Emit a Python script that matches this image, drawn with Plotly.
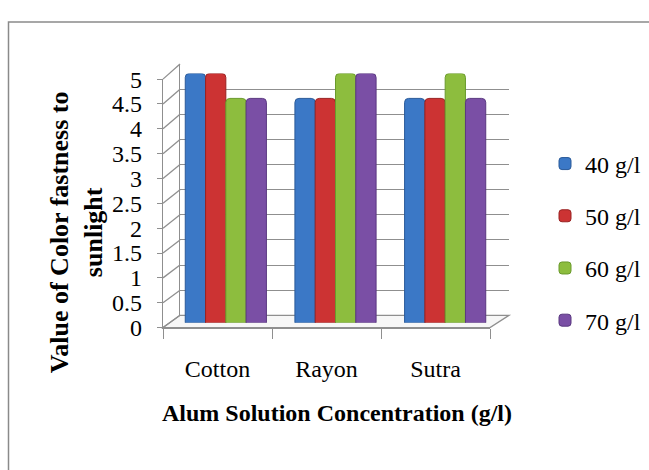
import plotly.graph_objects as go

# ---- data ----
categories = ["Cotton", "Rayon", "Sutra"]
series_names = ["40 g/l", "50 g/l", "60 g/l", "70 g/l"]
values_40 = [5.0, 4.5, 4.5]
values_50 = [5.0, 4.5, 4.5]
values_60 = [4.5, 5.0, 5.0]
values_70 = [4.5, 5.0, 4.5]
y_ticks = [0, 0.5, 1, 1.5, 2, 2.5, 3, 3.5, 4, 4.5, 5]
y_tick_text = ["0", "0.5", "1", "1.5", "2", "2.5", "3", "3.5", "4", "4.5", "5"]

W, H = 649, 470
FONT = "Liberation Serif"
GRID = "#8f8f8f"


def px(x):
    return x / W


def py(y):
    return 1 - y / H


colors = ["#3b78c6", "#cc3333", "#8dbd3e", "#7a4fa5"]
edges = ["#2a5a99", "#992222", "#6a9a2c", "#5a3880"]
all_values = [values_40, values_50, values_60, values_70]

# geometry (pixels)
FRONT_X0, FRONT_X1, FRONT_Y0, FRONT_Y5 = 163, 490, 333, 70
BACK_X0, BACK_X1, BACK_Y0, BACK_Y5 = 180, 509, 320, 54
BAR_X0, BAR_X1, BAR_Y0, BAR_Y5 = 171, 500, 328, 64

fig = go.Figure()

# back wall subplot (xy) - only gridlines
fig.add_trace(go.Scatter(x=[None], y=[None], xaxis="x", yaxis="y", showlegend=False, hoverinfo="skip"))
# front axes subplot (x2y2)
fig.add_trace(go.Scatter(x=[None], y=[None], xaxis="x2", yaxis="y2", showlegend=False, hoverinfo="skip"))
# bars subplot (x3y3)
for name, vals, c, e in zip(series_names, all_values, colors, edges):
    fig.add_trace(go.Bar(
        x=categories, y=vals, name=name, xaxis="x3", yaxis="y3",
        marker=dict(color=c, line=dict(color=e, width=1)),
        legendgroup=name,
    ))

shapes = []
# outer frame
shapes.append(dict(type="rect", xref="paper", yref="paper",
                   x0=px(8.5), x1=1.2, y0=-0.2, y1=py(9.5),
                   line=dict(color="#8a8a8a", width=1.5), fillcolor="rgba(0,0,0,0)", layer="below"))
# floor
fy0 = FRONT_Y0
shapes.append(dict(type="path", xref="paper", yref="paper", layer="below",
                   path=f"M{px(FRONT_X0)},{py(fy0)} L{px(FRONT_X1)},{py(fy0)} L{px(BACK_X1)},{py(BACK_Y0)} L{px(BACK_X0)},{py(BACK_Y0)} Z",
                   line=dict(color=GRID, width=1.3), fillcolor="rgba(240,240,240,0.5)"))
# diagonal connectors from front ticks to back wall
for v in y_ticks:
    yf = FRONT_Y0 - v * (FRONT_Y0 - FRONT_Y5) / 5
    yb = BACK_Y0 - v * (BACK_Y0 - BACK_Y5) / 5
    shapes.append(dict(type="line", xref="paper", yref="paper", layer="below",
                       x0=px(FRONT_X0), y0=py(yf), x1=px(BACK_X0), y1=py(yb),
                       line=dict(color=GRID, width=1.3)))

annotations = [
    dict(text="<b>Alum Solution Concentration (g/l)</b>", xref="paper", yref="paper",
         x=px(337), y=py(423), xanchor="center", yanchor="middle", showarrow=False,
         font=dict(family=FONT, size=24, color="#000")),
    dict(text="<b>Value of Color fastness to<br>sunlight</b>", xref="paper", yref="paper",
         x=px(76), y=py(232), xanchor="center", yanchor="middle", showarrow=False, textangle=-90,
         font=dict(family=FONT, size=26, color="#000")),
]

fig.update_layout(
    width=W, height=H, autosize=False,
    margin=dict(l=0, r=0, t=0, b=0),
    paper_bgcolor="white", plot_bgcolor="rgba(0,0,0,0)",
    font=dict(family=FONT, size=24, color="#000"),
    barmode="group", bargap=0.26, bargroupgap=0, barcornerradius=4,
    shapes=shapes, annotations=annotations,
    # back wall
    xaxis=dict(domain=[px(BACK_X0), px(BACK_X1)], range=[0, 1], anchor="y",
               showgrid=False, zeroline=False, showticklabels=False, ticks="", showline=False),
    yaxis=dict(domain=[py(BACK_Y0), py(BACK_Y5)], range=[-0.001, 5.001], anchor="x",
               tickvals=y_ticks, showgrid=True, gridcolor=GRID, gridwidth=1.3,
               zeroline=False, showticklabels=False, ticks="",
               showline=True, linecolor=GRID, linewidth=1.3, mirror=False),
    # front axes
    xaxis2=dict(domain=[px(FRONT_X0), px(FRONT_X1)], range=[-0.5, 2.5], anchor="y2",
                tickvals=[0, 1, 2], ticktext=categories, ticks="", showgrid=False, zeroline=False,
                showline=True, linecolor=GRID, linewidth=1.3,
                minor=dict(tickvals=[-0.5, 0.5, 1.5, 2.5], ticks="outside", ticklen=10,
                           tickcolor=GRID, tickwidth=1.3, showgrid=False),
                ticklabelstandoff=19,
                tickfont=dict(family=FONT, size=24, color="#000")),
    yaxis2=dict(domain=[py(FRONT_Y0), py(FRONT_Y5)], range=[0, 5], anchor="x2",
                tickvals=y_ticks, ticktext=y_tick_text, ticks="outside", ticklen=5,
                tickcolor=GRID, tickwidth=1.3, showgrid=False, zeroline=False,
                showline=True, linecolor=GRID, linewidth=1.3,
                ticklabelstandoff=10,
                tickfont=dict(family=FONT, size=24, color="#000")),
    # bars
    xaxis3=dict(domain=[px(BAR_X0), px(BAR_X1)], range=[-0.5, 2.5], anchor="y3",
                type="category", visible=False),
    yaxis3=dict(domain=[py(BAR_Y0), py(BAR_Y5)], range=[0, 5], anchor="x3", visible=False),
    legend=dict(x=px(545), y=py(136), xanchor="left", yanchor="top",
                font=dict(family=FONT, size=24, color="#000"),
                tracegroupgap=18, bgcolor="rgba(0,0,0,0)"),
)

fig.write_html("out.html")
